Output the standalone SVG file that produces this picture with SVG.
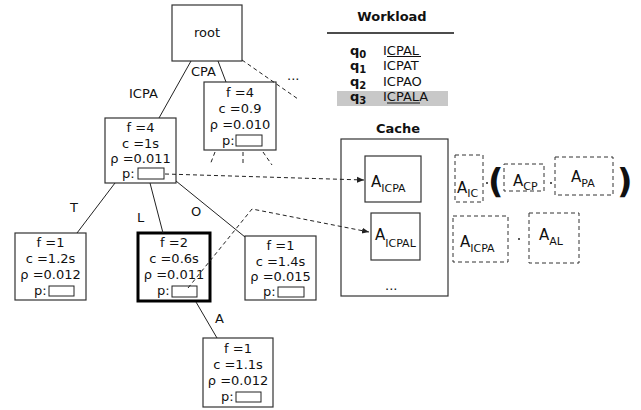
<svg xmlns="http://www.w3.org/2000/svg" width="641" height="410" viewBox="0 0 641 410">
<defs>
<style>
text{font-family:"DejaVu Sans","Liberation Sans",sans-serif;fill:#111;}
.t{font-size:13px;text-anchor:middle;}
.l{font-size:13px;}
.box{fill:#fff;stroke:#333;stroke-width:1.2;}
.bold{fill:#fff;stroke:#000;stroke-width:3;}
.pb{fill:#fff;stroke:#222;stroke-width:1;}
.edge{stroke:#222;stroke-width:1;fill:none;}
.dash{stroke:#222;stroke-width:1;fill:none;stroke-dasharray:4,3;}
.dbox{fill:none;stroke:#333;stroke-width:1;stroke-dasharray:4,3;}
.a{font-size:15px;}
.s{font-size:11px;}
.h{font-size:13px;font-weight:bold;text-anchor:middle;}
</style>
<marker id="arr" viewBox="0 0 8 8" refX="7" refY="4" markerWidth="8" markerHeight="8" orient="auto" markerUnits="userSpaceOnUse">
<path d="M0,1 L7,4 L0,7 Z" fill="#222"/>
</marker>
</defs>
<rect width="641" height="410" fill="#fff"/>

<g id="root">
<rect class="box" x="172" y="5" width="70" height="56" stroke="#555"/>
<text class="t" x="207" y="37">root</text>
</g>

<g id="node-ICPA">
<rect class="box" x="105" y="118" width="71" height="65"/>
<text class="t" x="140.5" y="132">f =4</text>
<text class="t" x="140.5" y="147.5">c =1s</text>
<text class="t" x="140.5" y="163">ρ =0.011</text>
<text class="l" x="122" y="178">p:</text>
<rect class="pb" x="138" y="168" width="26" height="11"/>
</g>

<g id="node-CPA">
<rect class="box" x="204" y="82" width="72" height="68"/>
<text class="t" x="240" y="97">f =4</text>
<text class="t" x="240" y="113">c =0.9</text>
<text class="t" x="240" y="129">ρ =0.010</text>
<text class="l" x="222" y="145">p:</text>
<rect class="pb" x="236" y="135" width="26" height="11"/>
</g>

<g id="node-T">
<rect class="box" x="15" y="233" width="71" height="67"/>
<text class="t" x="50.5" y="247">f =1</text>
<text class="t" x="50.5" y="263">c =1.2s</text>
<text class="t" x="50.5" y="279">ρ =0.012</text>
<text class="l" x="34" y="295">p:</text>
<rect class="pb" x="49" y="286" width="25" height="10"/>
</g>

<g id="node-L">
<rect class="bold" x="138" y="233" width="72" height="68"/>
<text class="t" x="174" y="247">f =2</text>
<text class="t" x="174" y="263">c =0.6s</text>
<text class="t" x="174" y="279">ρ =0.011</text>
<text class="l" x="157" y="295">p:</text>
<rect class="pb" x="172" y="286" width="25" height="11"/>
</g>

<g id="node-O">
<rect class="box" x="245" y="236" width="71" height="64"/>
<text class="t" x="280.5" y="250">f =1</text>
<text class="t" x="280.5" y="265.5">c =1.4s</text>
<text class="t" x="280.5" y="281">ρ =0.015</text>
<text class="l" x="263" y="296">p:</text>
<rect class="pb" x="278" y="287" width="26" height="10"/>
</g>

<g id="node-A">
<rect class="box" x="203" y="338" width="70" height="69"/>
<text class="t" x="238" y="353">f =1</text>
<text class="t" x="238" y="369">c =1.1s</text>
<text class="t" x="238" y="385">ρ =0.012</text>
<text class="l" x="221" y="401">p:</text>
<rect class="pb" x="236" y="392" width="25" height="10"/>
</g>

<g id="workload">
<text class="h" x="392" y="21">Workload</text>
<line x1="327" y1="33" x2="454" y2="33" stroke="#111" stroke-width="1.5"/>
<rect x="337" y="91" width="111" height="15" fill="#c8c8c8"/>
<text class="l" x="350" y="54.5" font-weight="bold">q<tspan font-size="10" dy="3">0</tspan></text>
<text class="l" x="350" y="70" font-weight="bold">q<tspan font-size="10" dy="3">1</tspan></text>
<text class="l" x="350" y="85.5" font-weight="bold">q<tspan font-size="10" dy="3">2</tspan></text>
<text class="l" x="350" y="101" font-weight="bold">q<tspan font-size="10" dy="3">3</tspan></text>
<text class="l" x="383" y="54.5">ICPAL</text>
<text class="l" x="383" y="70">ICPAT</text>
<text class="l" x="383" y="85.5">ICPAO</text>
<text class="l" x="383" y="101">ICPALA</text>
<line x1="387" y1="56.5" x2="421" y2="56.5" stroke="#111" stroke-width="1"/>
<line x1="387" y1="103" x2="420" y2="103" stroke="#111" stroke-width="1"/>
</g>

<g id="cache">
<text class="h" x="398" y="133">Cache</text>
<rect class="box" x="341" y="139" width="107" height="157"/>
<text class="l" x="385" y="290">...</text>
</g>

<g id="A-ICPA">
<rect class="box" x="365" y="156" width="56" height="46"/>
<text class="a" x="371" y="187">A<tspan class="s" dy="5">ICPA</tspan></text>
</g>

<g id="A-ICPAL">
<rect class="box" x="371" y="213" width="49" height="47" stroke="#444"/>
<text class="a" x="375" y="240">A<tspan class="s" dy="7">ICPAL</tspan></text>
</g>

<g id="decomp1">
<rect class="dbox" x="455" y="155" width="28" height="47"/>
<text class="a" x="457" y="193">A<tspan class="s" dy="4">IC</tspan></text>
<circle cx="487" cy="183" r="1" fill="#222"/>
<text x="488" y="193" font-size="34" font-weight="bold">(</text>
<rect class="dbox" x="504" y="164" width="40" height="27"/>
<text class="a" x="513" y="186">A<tspan class="s" dy="4">CP</tspan></text>
<circle cx="551" cy="183" r="1" fill="#222"/>
<rect class="dbox" x="555" y="157" width="58" height="38"/>
<text class="a" x="571" y="182">A<tspan class="s" dy="5">PA</tspan></text>
<text x="617" y="193" font-size="34" font-weight="bold">)</text>
</g>

<g id="decomp2">
<rect class="dbox" x="453" y="216" width="55" height="46"/>
<text class="a" x="460" y="247">A<tspan class="s" dy="5">ICPA</tspan></text>
<circle cx="519" cy="239" r="1" fill="#222"/>
<rect class="dbox" x="529" y="213" width="50" height="50"/>
<text class="a" x="539" y="240">A<tspan class="s" dy="5">AL</tspan></text>
</g>

<g id="connectors">
<line class="edge" x1="191" y1="61" x2="159" y2="118"/>
<line class="edge" x1="218" y1="61" x2="226" y2="82"/>
<line class="dash" x1="242" y1="60" x2="298" y2="99"/>
<line class="dash" x1="215" y1="152" x2="210" y2="165"/>
<line class="dash" x1="243" y1="152" x2="243" y2="166"/>
<line class="dash" x1="263" y1="152" x2="272" y2="165"/>
<line class="edge" x1="115" y1="183" x2="77" y2="233"/>
<line class="edge" x1="150" y1="183" x2="163" y2="233"/>
<line class="edge" x1="176" y1="181" x2="245" y2="237"/>
<line class="edge" x1="196" y1="302" x2="217" y2="338"/>
<text class="l" x="129" y="98">ICPA</text>
<text class="l" x="191" y="76">CPA</text>
<text class="l" x="287" y="80">...</text>
<text class="l" x="70" y="212">T</text>
<text class="l" x="137" y="222">L</text>
<text class="l" x="191" y="216">O</text>
<text class="l" x="215" y="323">A</text>
<line class="dash" x1="165" y1="174" x2="364" y2="180" marker-end="url(#arr)"/>
<polyline class="dash" points="188,288 252,209 369,232" marker-end="url(#arr)"/>
</g>
</svg>
